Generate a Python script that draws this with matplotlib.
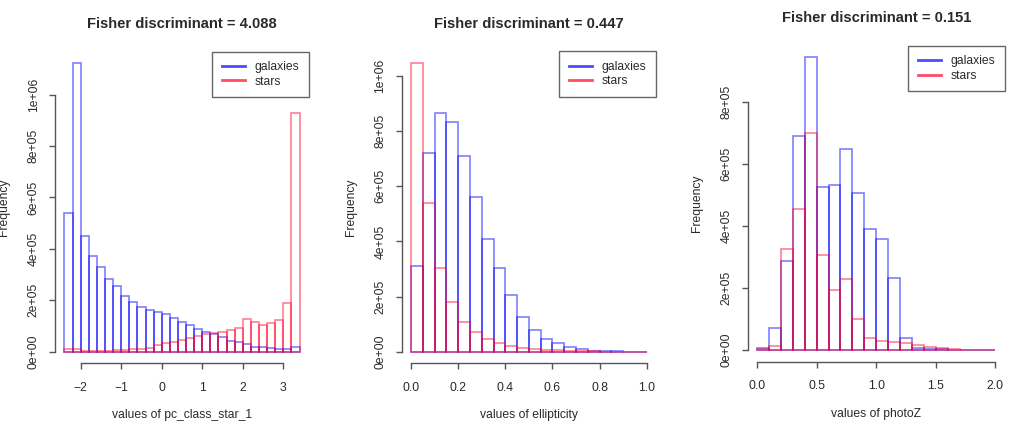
import numpy as np
import matplotlib
matplotlib.use('Agg')
import matplotlib.pyplot as plt
from matplotlib.lines import Line2D

plt.rcParams['font.family'] = ['Liberation Sans', 'DejaVu Sans']

# panel 1: pc_class_star_1, bins of 0.2 from -2.4 to 3.4 (counts in thousands)
pc_edges = np.linspace(-2.4, 3.4, 30)
pc_galaxies = [538, 1123, 451, 372, 328, 281, 255, 216, 192, 175, 162, 155, 146, 132, 117,
               102, 87, 75, 67, 56, 43, 36, 31, 19, 17, 13, 10, 10, 17]
pc_stars = [9, 12, 3, 3, 4, 4, 5, 6, 9, 12, 16, 26, 32, 39, 45,
            52, 61, 69, 74, 78, 84, 93, 126, 117, 104, 110, 123, 190, 929]
pc_xticks = [-2, -1, 0, 1, 2, 3]
pc_yticks = [0, 2e5, 4e5, 6e5, 8e5, 1e6]

# panel 2: ellipticity, bins of 0.05 from 0 to 1
ell_edges = np.linspace(0, 1, 21)
ell_galaxies = [311, 719, 865, 834, 711, 560, 407, 302, 206, 127, 79, 45, 30, 16, 8, 4, 2, 1, 0.5, 0.3]
ell_stars = [1048, 540, 302, 179, 109, 73, 46, 33, 21, 15, 11, 7, 5, 3, 2, 1, 0.5, 0.3, 0.2, 0.1]
ell_xticks = [0.0, 0.2, 0.4, 0.6, 0.8, 1.0]
ell_yticks = [0, 2e5, 4e5, 6e5, 8e5, 1e6]

# panel 3: photoZ, bins of 0.1 from 0 to 2
pz_edges = np.linspace(0, 2, 21)
pz_galaxies = [6, 72, 287, 691, 945, 528, 533, 648, 506, 390, 357, 231, 38, 5, 3, 2, 1, 0.5, 0.3, 0.2]
pz_stars = [4, 14, 325, 455, 702, 307, 194, 228, 99, 38, 29, 25, 22, 16, 11, 5, 3, 1, 0.5, 0.3]
pz_xticks = [0.0, 0.5, 1.0, 1.5, 2.0]
pz_yticks = [0, 2e5, 4e5, 6e5, 8e5]

ylab_all = ["0e+00", "2e+05", "4e+05", "6e+05", "8e+05", "1e+06"]

panels = [
    ("Fisher discriminant = 4.088", "values of pc_class_star_1", pc_edges, pc_galaxies, pc_stars,
     pc_xticks, ["\u22122", "\u22121", "0", "1", "2", "3"], pc_yticks, (55.1, 308.9, 51.5, 363.2)),
    ("Fisher discriminant = 0.447", "values of ellipticity", ell_edges, ell_galaxies, ell_stars,
     ell_xticks, ["0.0", "0.2", "0.4", "0.6", "0.8", "1.0"], ell_yticks, (401.6, 656.1, 51.2, 363.2)),
    ("Fisher discriminant = 0.151", "values of photoZ", pz_edges, pz_galaxies, pz_stars,
     pz_xticks, ["0.0", "0.5", "1.0", "1.5", "2.0"], pz_yticks, (747.5, 1004.9, 45.7, 361.7)),
]

W, H = 1015, 429
fig = plt.figure(figsize=(W / 100, H / 100), dpi=100)

blue = (0, 0, 1, 0.5)
red = (1, 0, 0.15, 0.5)
axcol = '#555555'
txtcol = '#2a2a2a'
fs = 8.7

for title, xlab, edges, gal, sta, xt, xtl, yt, (x0, x1, top, bot) in panels:
    ax = fig.add_axes([x0 / W, (H - bot) / H, (x1 - x0) / W, (bot - top) / H])
    gal = np.array(gal) * 1e3
    sta = np.array(sta) * 1e3
    w = edges[1] - edges[0]
    ax.bar(edges[:-1], gal, width=w, align='edge', fill=False, edgecolor=blue, linewidth=1.2)
    ax.bar(edges[:-1], sta, width=w, align='edge', fill=False, edgecolor=red, linewidth=1.2)

    span = edges[-1] - edges[0]
    ax.set_xlim(edges[0] - 0.04 * span, edges[-1] + 0.04 * span)
    ymax = max(gal.max(), sta.max())
    ax.set_ylim(-0.04 * ymax, 1.04 * ymax)

    for s in ['top', 'right']:
        ax.spines[s].set_visible(False)
    for s in ['left', 'bottom']:
        ax.spines[s].set_color(axcol)
        ax.spines[s].set_linewidth(1)
    ax.spines['left'].set_bounds(yt[0], yt[-1])
    ax.spines['bottom'].set_bounds(xt[0], xt[-1])

    ax.set_xticks(xt, xtl)
    ax.set_yticks(yt, ylab_all[:len(yt)], rotation=90, va='center')
    ax.tick_params(colors=axcol, labelcolor=txtcol, labelsize=fs, length=4.5, width=1)
    ax.tick_params(axis='x', pad=9)
    ax.tick_params(axis='y', pad=6.5)

    ax.annotate(title, xy=(0.5, 1), xycoords='axes fraction', xytext=(0, 27.5 * 0.72),
                textcoords='offset points', ha='center', va='center',
                fontsize=10.6, fontweight='bold', color=txtcol)
    ax.annotate(xlab, xy=(0.5, 0), xycoords='axes fraction', xytext=(0, -52 * 0.72),
                textcoords='offset points', ha='center', va='center', fontsize=fs, color=txtcol)
    ax.annotate("Frequency", xy=(0, 0.5), xycoords='axes fraction', xytext=(-51 * 0.72, 0),
                textcoords='offset points', ha='center', va='center', rotation=90,
                fontsize=fs, color=txtcol)

    handles = [Line2D([], [], color=(0, 0, 1, 0.7), lw=2),
               Line2D([], [], color=(1, 0, 0.15, 0.7), lw=2)]
    leg = ax.legend(handles, ["galaxies", "stars"], loc='upper right', bbox_to_anchor=(1, 1),
                    borderaxespad=0, fontsize=fs, fancybox=False, framealpha=1,
                    edgecolor='#666666', labelspacing=0.2, borderpad=0.8,
                    handlelength=1.9, handletextpad=0.8, labelcolor=txtcol)
    leg.get_frame().set_linewidth(1)

fig.savefig("out.png", dpi=100)
